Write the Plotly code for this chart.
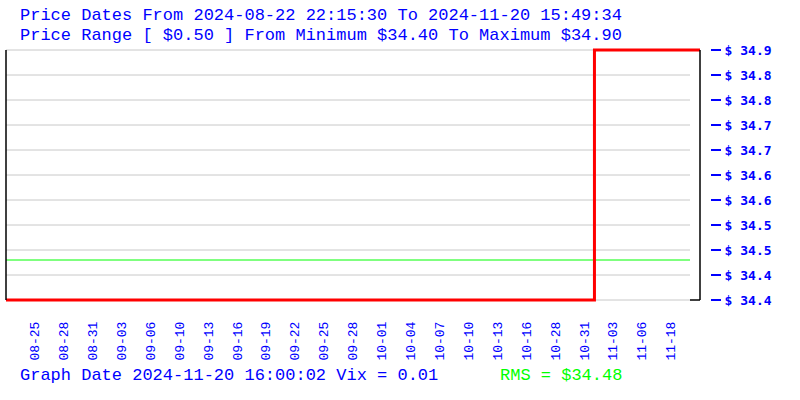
import plotly.graph_objects as go

# ---- data ----
price_x = [0.0, 20.35, 24.0]          # sample index (step chart)
price_y = [34.40, 34.90, 34.90]
rms_value = 34.48
y_tick_vals = [34.90, 34.85, 34.80, 34.75, 34.70, 34.65, 34.60, 34.55, 34.50, 34.45, 34.40]
y_tick_text = ["$ 34.9", "$ 34.8", "$ 34.8", "$ 34.7", "$ 34.7", "$ 34.6",
               "$ 34.6", "$ 34.5", "$ 34.5", "$ 34.4", "$ 34.4"]
x_tick_vals = list(range(1, 24))
x_tick_text = ["08-25", "08-28", "08-31", "09-03", "09-06", "09-10", "09-13", "09-16",
               "09-19", "09-22", "09-25", "09-28", "10-01", "10-04", "10-07", "10-10",
               "10-13", "10-16", "10-28", "10-31", "11-03", "11-06", "11-18"]
title1 = "Price Dates From 2024-08-22 22:15:30 To 2024-11-20 15:49:34"
title2 = "Price Range [ $0.50 ] From Minimum $34.40 To Maximum $34.90"
footer1 = "Graph Date 2024-11-20 16:00:02 Vix = 0.01"
footer2 = "RMS = $34.48"

# ---- layout geometry ----
W, H = 800, 400
L, R, T, B = 4, 90, 48, 98
PW, PH = W - L - R, H - T - B
X0_PX, X1_PX = 6, 700          # pixel positions of x = 0 and x = 24
PPU = (X1_PX - X0_PX) / 24.0
x_range = [-(X0_PX - L) / PPU, 24 + (W - R - X1_PX) / PPU]
y_range = [34.40 - 2 * 0.002, 34.90 + 2 * 0.002]
grid_end = 23.0 + (690 - (X0_PX + 23 * PPU)) / PPU

BLUE = "#0000ff"
GREEN = "#00ff00"
MONO = "Liberation Mono"

fig = go.Figure()

# grid lines (from tick values)
for v in y_tick_vals:
    fig.add_shape(type="line", xref="x", yref="y", x0=0, x1=grid_end, y0=v, y1=v,
                  line=dict(color="#c8c8c8", width=1), layer="below")

# RMS line
fig.add_trace(go.Scatter(x=[0, grid_end], y=[rms_value, rms_value], mode="lines",
                         line=dict(color=GREEN, width=1), hoverinfo="skip"))
# price line
fig.add_trace(go.Scatter(x=price_x, y=price_y, mode="lines", line_shape="hv",
                         line=dict(color="#ff0000", width=3)))

# frame: left line, right line with bottom stub
fig.add_shape(type="line", xref="x", yref="y", x0=0, x1=0, y0=34.40, y1=34.90,
              line=dict(color="black", width=1.5))
fig.add_shape(type="line", xref="x", yref="y", x0=24, x1=24, y0=34.40, y1=34.90,
              line=dict(color="black", width=1.5))
fig.add_shape(type="line", xref="x", yref="y", x0=grid_end, x1=24, y0=34.40, y1=34.40,
              line=dict(color="black", width=1.5))

def px_x(p):
    return (p - L) / PW

def px_y(p):
    return (H - B - p) / PH

anns = [
    dict(text=title1, x=px_x(18), y=px_y(15), color=BLUE),
    dict(text=title2, x=px_x(18), y=px_y(35), color=BLUE),
    dict(text=footer1, x=px_x(18), y=px_y(375), color=BLUE),
    dict(text=footer2, x=px_x(498), y=px_y(375), color=GREEN),
]
for a in anns:
    fig.add_annotation(text=a["text"], x=a["x"], y=a["y"], xref="paper", yref="paper",
                       xanchor="left", yanchor="middle", showarrow=False,
                       font=dict(family=MONO, size=17, color=a["color"]))

fig.update_layout(
    width=W, height=H, margin=dict(l=L, r=R, t=T, b=B, pad=0),
    paper_bgcolor="white", plot_bgcolor="white", showlegend=False,
    xaxis=dict(range=x_range, tickmode="array", tickvals=x_tick_vals, ticktext=x_tick_text,
               tickangle=-90, showgrid=False, zeroline=False, showline=False, ticks="",
               ticklabelstandoff=16,
               tickfont=dict(family=MONO, size=13, color=BLUE)),
    yaxis=dict(range=y_range, side="right", tickmode="array", tickvals=y_tick_vals,
               ticktext=y_tick_text, showgrid=False, zeroline=False, showline=False,
               ticks="outside", ticklen=10, tickwidth=1.5, tickcolor=BLUE,
               ticklabelstandoff=1,
               tickfont=dict(family="DejaVu Sans Mono", size=13, color=BLUE, weight="bold")),
)

fig.write_html("out.html", config={"displayModeBar": False},
               post_script="document.body.style.margin='0';")
